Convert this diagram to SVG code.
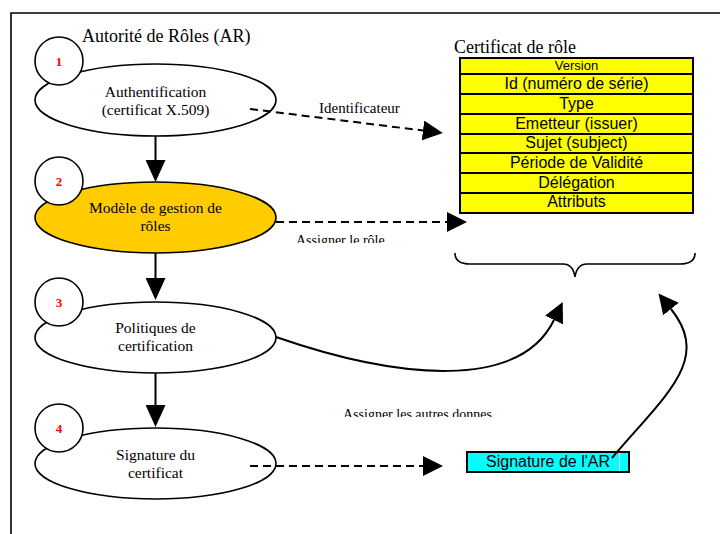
<svg xmlns="http://www.w3.org/2000/svg" width="720" height="534" viewBox="0 0 720 534">
<style>
.serif{font-family:"Liberation Serif","Times New Roman",serif;fill:#000}
.sans{font-family:"Liberation Sans",Arial,sans-serif;fill:#000}
.node{stroke:#000;stroke-width:1.6}
.num{font-family:"Liberation Serif","Times New Roman",serif;font-weight:bold;font-size:13px;fill:#ff0000;text-anchor:middle}
.lbl{font-size:15.5px;text-anchor:middle}
.row{fill:#ffff00;stroke:#000;stroke-width:2}
.rt{font-size:16px;text-anchor:middle}
.solid{fill:none;stroke:#000;stroke-width:2}
.dash{fill:none;stroke:#000;stroke-width:2;stroke-dasharray:8 5}
</style>
<defs>
<marker id="ah" viewBox="0 0 20 20" refX="0" refY="10" markerWidth="20" markerHeight="20" markerUnits="userSpaceOnUse" orient="auto">
<path d="M0,0 L20,10 L0,20 z" fill="#000"/>
</marker>
<marker id="ahv" viewBox="0 0 22 20" refX="0" refY="10" markerWidth="22" markerHeight="20" markerUnits="userSpaceOnUse" orient="auto">
<path d="M0,0 L22,10 L0,20 z" fill="#000"/>
</marker>
<clipPath id="c1"><rect x="280" y="225" width="140" height="18"/></clipPath>
<clipPath id="c2"><rect x="330" y="400" width="200" height="17"/></clipPath>
</defs>
<rect width="720" height="534" fill="#fff"/>
<path d="M11,534 V13 H720" fill="none" stroke="#000" stroke-width="1.6"/>
<text class="serif" x="82" y="42" font-size="18">Autorité de Rôles (AR)</text>

<g id="n1">
<ellipse class="node" cx="155.5" cy="100" rx="120.5" ry="36" fill="#fff"/>
<text class="serif lbl" x="155.5" y="97">Authentification</text>
<text class="serif lbl" x="155.5" y="115">(certificat X.509)</text>
<circle class="node" cx="59" cy="61" r="24" fill="#fff"/>
<text class="num" x="59" y="65.5">1</text>
</g>
<g id="n2">
<ellipse class="node" cx="155.5" cy="217.5" rx="120.5" ry="35.5" fill="#ffcc00"/>
<text class="serif lbl" x="155.5" y="213">Modèle de gestion de</text>
<text class="serif lbl" x="155.5" y="231">rôles</text>
<circle class="node" cx="59" cy="181" r="24" fill="#fff"/>
<text class="num" x="59" y="185.5">2</text>
</g>
<g id="n3">
<ellipse class="node" cx="155.5" cy="337.5" rx="120.5" ry="35.5" fill="#fff"/>
<text class="serif lbl" x="155.5" y="333">Politiques de</text>
<text class="serif lbl" x="155.5" y="351">certification</text>
<circle class="node" cx="59" cy="302" r="24" fill="#fff"/>
<text class="num" x="59" y="306.5">3</text>
</g>
<g id="n4">
<ellipse class="node" cx="155.5" cy="463.5" rx="120.5" ry="35.5" fill="#fff"/>
<text class="serif lbl" x="155.5" y="460">Signature du</text>
<text class="serif lbl" x="155.5" y="478">certificat</text>
<circle class="node" cx="59" cy="428" r="24" fill="#fff"/>
<text class="num" x="59" y="432.5">4</text>
</g>

<g id="cert">
<text class="serif" x="454" y="53" font-size="18">Certificat de rôle</text>
<rect class="row" x="460" y="58" width="233" height="16"/>
<rect class="row" x="460" y="74" width="233" height="20"/>
<rect class="row" x="460" y="94" width="233" height="20"/>
<rect class="row" x="460" y="114" width="233" height="20"/>
<rect class="row" x="460" y="134" width="233" height="19"/>
<rect class="row" x="460" y="153" width="233" height="20"/>
<rect class="row" x="460" y="173" width="233" height="20"/>
<rect class="row" x="460" y="193" width="233" height="20"/>
<text class="sans" x="576.5" y="70" font-size="13" text-anchor="middle">Version</text>
<text class="sans rt" x="576.5" y="89">Id (numéro de série)</text>
<text class="sans rt" x="576.5" y="109">Type</text>
<text class="sans rt" x="576.5" y="129">Emetteur (issuer)</text>
<text class="sans rt" x="576.5" y="148">Sujet (subject)</text>
<text class="sans rt" x="576.5" y="168">Période de Validité</text>
<text class="sans rt" x="576.5" y="188">Délégation</text>
<text class="sans rt" x="576.5" y="207">Attributs</text>
</g>

<g id="brace">
<path d="M455,253 Q455,264 470,264 H563 Q573,264 575,277 Q577,264 587,264 H680 Q695,264 695,253" fill="none" stroke="#000" stroke-width="1.6"/>
</g>

<g id="sig">
<rect x="467" y="452" width="162" height="20" fill="#00ffff" stroke="#000" stroke-width="2"/>
<line x1="619.5" y1="453" x2="619.5" y2="471" stroke="#fff" stroke-width="1"/>
<text class="sans" x="486" y="467" font-size="16">Signature de l'AR</text>
</g>

<g id="connectors">
<line class="solid" x1="155.5" y1="136" x2="155.5" y2="160" marker-end="url(#ahv)"/>
<line class="solid" x1="155.5" y1="253" x2="155.5" y2="278" marker-end="url(#ahv)"/>
<line class="solid" x1="155.5" y1="373" x2="155.5" y2="405" marker-end="url(#ahv)"/>
<line class="dash" x1="250" y1="109" x2="423" y2="130.5" marker-end="url(#ah)"/>
<line class="dash" x1="276" y1="222" x2="447" y2="222" marker-end="url(#ah)"/>
<line class="dash" x1="250" y1="466" x2="423" y2="466" marker-end="url(#ah)"/>
<path class="solid" d="M276,337 C400,380 520,390 554,320" marker-end="url(#ah)"/>
<path class="solid" d="M612,458 C665,395 712,360 671,309" marker-end="url(#ah)"/>
<text class="serif" x="319" y="113" font-size="15">Identificateur</text>
<g clip-path="url(#c1)"><text class="serif" x="296" y="245" font-size="14">Assigner le rôle</text></g>
<g clip-path="url(#c2)"><text class="serif" x="343" y="419" font-size="14">Assigner les autres  donnes</text></g>
</g>
</svg>
